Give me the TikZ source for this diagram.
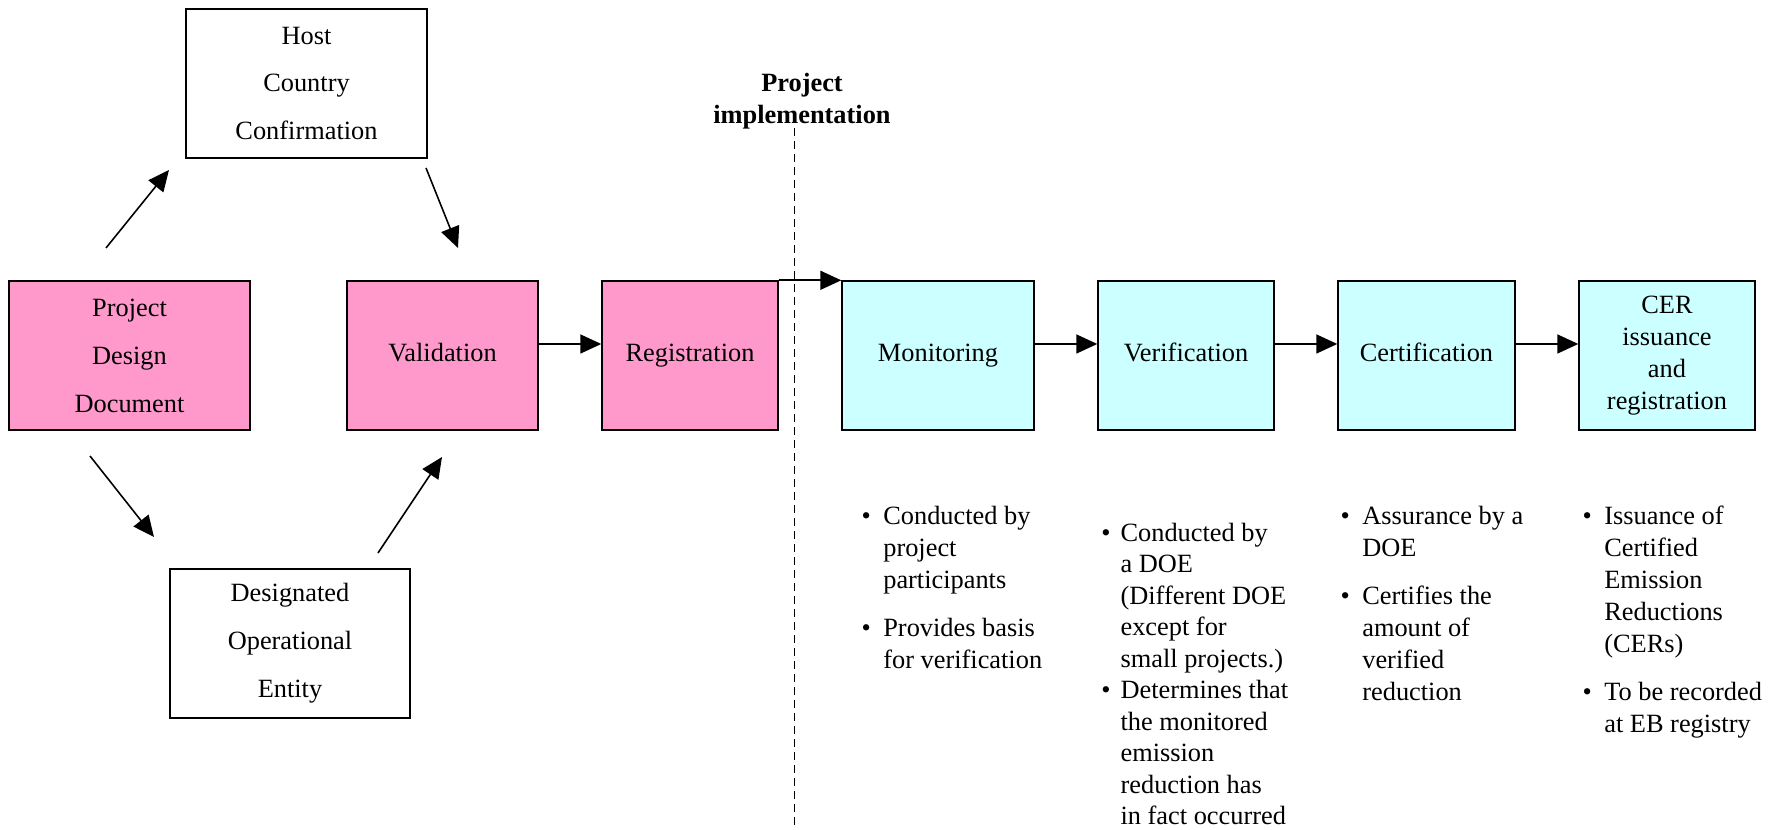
\documentclass[tikz,border=0pt]{standalone}
\usepackage{fontspec}
\setmainfont{Liberation Serif}
\usetikzlibrary{arrows.meta}

\definecolor{pinkbox}{RGB}{255,153,204}
\definecolor{cyanbox}{RGB}{204,255,255}

\tikzset{
  box/.style={draw, line width=0.8pt, align=center, inner sep=0pt,
    minimum height=2.98cm, font=\fontsize{15}{18.2}\selectfont},
  onebox/.style={box, text height=0.66em, text depth=0pt},
  tallbox/.style={box, font=\fontsize{15}{27.3}\selectfont},
  arr/.style={line width=0.9pt, -{Triangle[length=0.42cm,width=0.38cm]}},
  info/.style={anchor=base west, inner sep=0pt, font=\fontsize{15}{18.2}\selectfont}
}

\begin{document}
\begin{tikzpicture}
        \useasboundingbox (0,0) rectangle (35.64,16.6);

        % boxes before implementation
        \node [tallbox, fill=pinkbox, minimum width=4.82cm] (pdd) at (2.59,9.49) {Project\\Design\\Document};
        \node [tallbox, minimum width=4.82cm] (host) at (6.13,14.93) {Host\\Country\\Confirmation};
        \node [tallbox, minimum width=4.8cm] (doe) at (5.8,3.73) {Designated\\Operational\\Entity};
        \node [onebox, fill=pinkbox, minimum width=3.82cm] (valid) at (8.85,9.49) {Validation};
        \node [onebox, fill=pinkbox, minimum width=3.52cm] (regist) at (13.8,9.49) {Registration};

        % boxes after implementation
        \node [onebox, fill=cyanbox, minimum width=3.84cm] (monit) at (18.76,9.49) {Monitoring};
        \node [onebox, fill=cyanbox, minimum width=3.52cm] (verif) at (23.72,9.49) {Verification};
        \node [onebox, fill=cyanbox, minimum width=3.54cm] (certif) at (28.53,9.49) {Certification};
        \node [box, fill=cyanbox, minimum width=3.52cm] (cer) at (33.34,9.49) {CER\\issuance\\and\\registration};

        % free arrow ends
        \coordinate (pddup) at (2.12,11.64);
        \coordinate (hostin) at (3.38,13.2);
        \coordinate (hostout) at (8.52,13.24);
        \coordinate (validup) at (9.16,11.64);
        \coordinate (pdddown) at (1.8,7.48);
        \coordinate (doein) at (3.08,5.86);
        \coordinate (doeout) at (7.56,5.54);
        \coordinate (validdown) at (8.84,7.46);

        \draw [arr] (pddup)--(hostin);
        \draw [arr] (hostout)--(validup);
        \draw [arr] (pdddown)--(doein);
        \draw [arr] (doeout)--(validdown);
        \draw [arr] ([yshift=0.23cm]valid.east)--([yshift=0.23cm]regist.west);
        \draw [arr] (regist.north east)--(monit.north west);
        \draw [arr] ([yshift=0.23cm]monit.east)--([yshift=0.23cm]verif.west);
        \draw [arr] ([yshift=0.23cm]verif.east)--([yshift=0.23cm]certif.west);
        \draw [arr] ([yshift=0.23cm]certif.east)--([yshift=0.23cm]cer.west);

        % project implementation line
        \node [align=center, inner sep=0pt, font=\fontsize{15}{18.2}\selectfont\bfseries] (impl) at (16.04,14.58) {Project\\implementation};
        \coordinate (dashtop) at (15.88,14.3);
        \coordinate (dashbot) at (15.88,0.1);
        \draw [dashed, dash pattern=on 0.16cm off 0.1cm, line width=0.5pt] (dashtop)--(dashbot);

        % notes under the boxes
        \node [info] (monitxt) at (17.225,6.1) {\begin{tabular}[t]{@{}l@{\hspace{0.25cm}}l@{}}
            \textbullet & Conducted by\\
             & project\\
             & participants\\[0.32cm]
            \textbullet & Provides basis\\
             & for verification
        \end{tabular}};
        \node [info, font=\fontsize{15}{17.9}\selectfont] (veriftxt) at (22.02,5.77) {\begin{tabular}[t]{@{}l@{\hspace{0.2cm}}l@{}}
            \textbullet & Conducted by\\
             & a DOE\\
             & (Different DOE\\
             & except for\\
             & small projects.)\\
            \textbullet & Determines that\\
             & the monitored\\
             & emission\\
             & reduction has\\
             & in fact occurred
        \end{tabular}};
        \node [info] (certiftxt) at (26.805,6.1) {\begin{tabular}[t]{@{}l@{\hspace{0.25cm}}l@{}}
            \textbullet & Assurance by a\\
             & DOE\\[0.32cm]
            \textbullet & Certifies the\\
             & amount of\\
             & verified\\
             & reduction
        \end{tabular}};
        \node [info] (certxt) at (31.645,6.1) {\begin{tabular}[t]{@{}l@{\hspace{0.25cm}}l@{}}
            \textbullet & Issuance of\\
             & Certified\\
             & Emission\\
             & Reductions\\
             & (CERs)\\[0.32cm]
            \textbullet & To be recorded\\
             & at EB registry
        \end{tabular}};
\end{tikzpicture}
\end{document}
